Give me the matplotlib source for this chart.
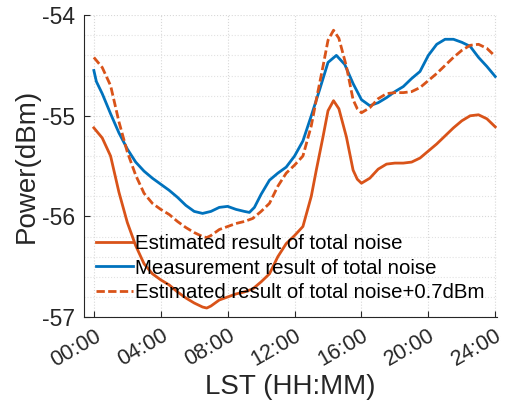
import numpy as np
import matplotlib
matplotlib.use("Agg")
import matplotlib.pyplot as plt
from matplotlib.ticker import MultipleLocator

plt.rcParams['font.family'] = ['Liberation Sans', 'DejaVu Sans']

# 估计的总噪声（小时, dBm）
est_hours = [0, 0.5, 1.0, 1.5, 2.0, 2.5, 3.0, 3.5, 4.0, 4.5, 5.0, 5.5, 6.0, 6.5, 6.75,
             7.0, 7.5, 8.0, 8.5, 9.0, 9.5, 10.0, 10.5, 11.0, 11.5, 12.0, 12.5, 13.0,
             13.3, 13.7, 14.0, 14.33, 14.65, 15.1, 15.5, 15.75, 16.0, 16.5, 17.0, 17.5,
             18.0, 18.5, 19.0, 19.5, 20.0, 20.5, 21.0, 21.5, 22.0, 22.5, 23.0, 23.5, 24.0]
est_power = [-55.12, -55.22, -55.40, -55.76, -56.06, -56.29, -56.47, -56.57, -56.63, -56.68,
             -56.75, -56.81, -56.86, -56.90, -56.91, -56.89, -56.83, -56.80, -56.77, -56.75,
             -56.72, -56.65, -56.57, -56.40, -56.27, -56.19, -56.10, -55.80, -55.54, -55.21,
             -54.95, -54.85, -54.93, -55.21, -55.54, -55.63, -55.67, -55.62, -55.53, -55.48,
             -55.47, -55.47, -55.46, -55.42, -55.35, -55.28, -55.20, -55.12, -55.05, -55.00,
             -54.99, -55.03, -55.11]

# 实测总噪声
meas_hours = [0, 0.15, 0.5, 1.0, 1.5, 2.0, 2.5, 3.0, 3.5, 4.0, 4.5, 5.0, 5.5, 6.0, 6.5,
              7.0, 7.5, 8.0, 8.5, 9.0, 9.3, 9.6, 10.0, 10.5, 11.0, 11.5, 12.0, 12.5, 13.0,
              13.5, 14.0, 14.5, 15.0, 15.5, 16.0, 16.5, 17.0, 17.5, 18.0, 18.5, 19.0, 19.5,
              20.0, 20.5, 21.0, 21.5, 22.0, 22.5, 23.0, 23.5, 24.0]
meas_power = [-54.55, -54.66, -54.78, -54.98, -55.17, -55.33, -55.46, -55.55, -55.62, -55.68,
              -55.74, -55.81, -55.89, -55.95, -55.97, -55.95, -55.91, -55.90, -55.93, -55.95,
              -55.96, -55.91, -55.78, -55.64, -55.57, -55.51, -55.40, -55.25, -55.00, -54.74,
              -54.47, -54.40, -54.49, -54.68, -54.84, -54.90, -54.87, -54.82, -54.76, -54.71,
              -54.63, -54.56, -54.40, -54.29, -54.24, -54.24, -54.27, -54.31, -54.42, -54.51,
              -54.61]

offset_db = 0.7
xtick_hours = [0, 4, 8, 12, 16, 20, 24]
xtick_labels = ["00:00", "04:00", "08:00", "12:00", "16:00", "20:00", "24:00"]

orange = "#D95319"
blue = "#0072BD"

fig = plt.figure(figsize=(5.05, 4.2), dpi=100)
ax = fig.add_axes([0.166, 0.245, 0.818, 0.719])

ax.plot(est_hours, est_power, color=orange, lw=2.0, label="Estimated result of total noise")
ax.plot(meas_hours, meas_power, color=blue, lw=2.0, label="Measurement result of total noise")
ax.plot(est_hours, np.array(est_power) + offset_db, color=orange, lw=2.0, ls=(0, (3, 1.2)),
        label="Estimated result of total noise+0.7dBm")

ax.set_xlim(-0.6, 24.1)
ax.set_ylim(-57, -54)
ax.set_xticks(xtick_hours)
ax.set_xticklabels(xtick_labels, rotation=30, ha="right", rotation_mode="anchor")
ax.set_yticks([-57, -56, -55, -54])
ax.set_yticklabels(["-57", "-56", "-55", "-54"])
ax.yaxis.set_minor_locator(MultipleLocator(0.2))

ax.grid(True, which="major", ls=":", color="#d8d8d8", lw=0.8)
ax.grid(True, which="minor", axis="y", ls=":", color="#e2e2e2", lw=0.8)
ax.set_axisbelow(True)

for s in ["top", "right"]:
    ax.spines[s].set_visible(False)
for s in ["left", "bottom"]:
    ax.spines[s].set_color("#262626")
    ax.spines[s].set_linewidth(0.8)

ax.tick_params(axis="y", which="major", direction="in", length=4, labelsize=16.5,
               colors="#262626", pad=6)
ax.tick_params(axis="x", which="major", direction="in", length=4, labelsize=15.5,
               colors="#262626", pad=6)
ax.tick_params(axis="y", which="minor", length=0)

ax.set_xlabel("LST (HH:MM)", fontsize=20, color="#262626", labelpad=2)
ax.set_ylabel("Power(dBm)", fontsize=20, color="#262626", labelpad=2)

leg = ax.legend(loc="upper left", bbox_to_anchor=(0.0, 0.315), frameon=False, fontsize=14.7,
                handlelength=1.8, handletextpad=0.12, labelspacing=0.26, borderaxespad=0.2)

plt.savefig("out.png", dpi=100)
